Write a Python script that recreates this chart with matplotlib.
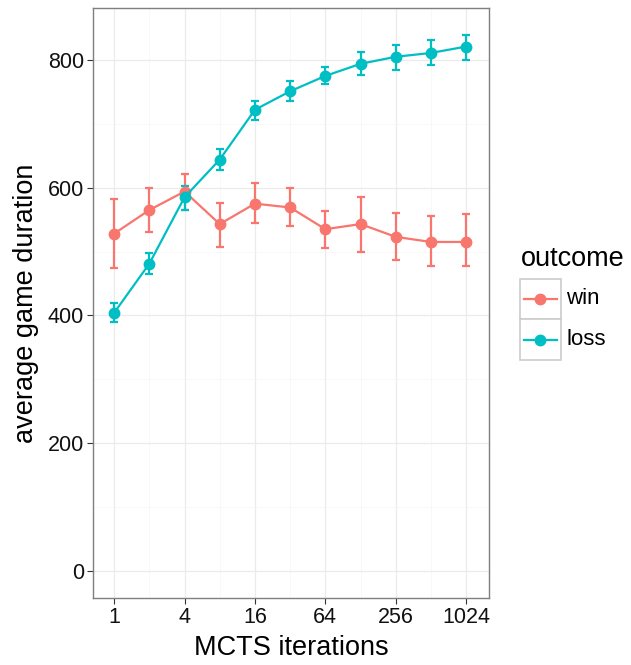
import matplotlib
matplotlib.use("Agg")
import matplotlib.pyplot as plt
from matplotlib.patches import Rectangle
from matplotlib.lines import Line2D
import numpy as np

plt.rcParams['font.family'] = ['Liberation Sans', 'DejaVu Sans']

iterations = [1, 2, 4, 8, 16, 32, 64, 128, 256, 512, 1024]
win_mean = [528, 565, 594, 543, 575, 569, 535, 543, 523, 515, 515]
win_low = [474, 530, 565, 507, 544, 540, 506, 500, 486, 478, 478]
win_high = [582, 600, 622, 576, 608, 599, 564, 585, 560, 556, 559]
loss_mean = [404, 481, 585, 644, 722, 751, 775, 794, 805, 811, 821]
loss_low = [389, 465, 565, 628, 706, 736, 762, 776, 785, 792, 800]
loss_high = [420, 498, 603, 660, 736, 767, 789, 812, 824, 831, 839]
xticks = [1, 4, 16, 64, 256, 1024]
yticks = [0, 200, 400, 600, 800]

W, H = 631, 665
fig = plt.figure(figsize=(W / 100, H / 100), dpi=100)
ax = fig.add_axes([93 / W, 1 - 598 / H, (489 - 93) / W, (598 - 8) / H])

red = '#F8766D'
cyan = '#00BFC4'

ax.set_xscale('log', base=2)
ax.set_xlim(2 ** -0.6, 2 ** 10.65)
ax.set_ylim(-42.6, 881.4)

for v in xticks:
    ax.axvline(v, color='#EBEBEB', lw=0.9, zorder=0)
for v in [2, 8, 32, 128, 512]:
    ax.axvline(v, color='#F5F5F5', lw=0.5, zorder=0)
for v in yticks:
    ax.axhline(v, color='#EBEBEB', lw=0.9, zorder=0)
for v in [100, 300, 500, 700]:
    ax.axhline(v, color='#F5F5F5', lw=0.5, zorder=0)

for mean, lo, hi, col in [(win_mean, win_low, win_high, red), (loss_mean, loss_low, loss_high, cyan)]:
    m = np.array(mean); l = np.array(lo); h = np.array(hi)
    ax.errorbar(iterations, m, yerr=[m - l, h - m], fmt='none', ecolor=col,
                elinewidth=1.6, capsize=3, capthick=1.6, zorder=2)
    ax.plot(iterations, m, color=col, lw=1.6, marker='o', markersize=7.5, zorder=3)

ax.set_xticks(xticks)
ax.set_xticklabels([str(v) for v in xticks])
ax.minorticks_off()
ax.set_yticks(yticks)
ax.tick_params(axis='both', labelsize=15.5, labelcolor='#111111', color='#333333',
               length=4, width=0.8, pad=2.5)
for s in ax.spines.values():
    s.set_color('#7f7f7f')
    s.set_linewidth(1.0)

ax.set_xlabel('MCTS iterations', fontsize=19.5, labelpad=5)
ax.set_ylabel('average game duration', fontsize=19.5, labelpad=6)

# legend
def fx(px):
    return px / W

def fy(py):
    return 1 - py / H

fig.text(fx(521), fy(259), 'outcome', fontsize=19.5, va='center', ha='left')
for i, (lab, col) in enumerate([('win', red), ('loss', cyan)]):
    top = 278.5 + i * 40.5
    fig.patches.append(Rectangle((fx(519.5), fy(top + 40.5)), (561 - 519.5) / W, 40.5 / H,
                                 transform=fig.transFigure, facecolor='white',
                                 edgecolor='#CCCCCC', lw=1.2))
    cy = fy(top + 20.5)
    fig.lines.append(Line2D([fx(524), fx(557)], [cy, cy], transform=fig.transFigure,
                            color=col, lw=1.6))
    fig.lines.append(Line2D([fx(540)], [cy], transform=fig.transFigure, color=col,
                            marker='o', markersize=7.5, lw=0))
    fig.text(fx(566), cy, lab, fontsize=16, va='center', ha='left')

fig.savefig('out.png', dpi=100)
